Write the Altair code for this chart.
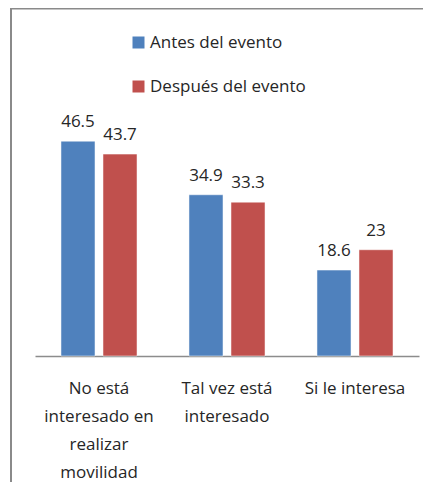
import json
import altair as alt
import pandas as pd

categories = ["No está interesado en realizar movilidad", "Tal vez está interesado", "Si le interesa"]
category_lines = [["No está", "interesado en", "realizar", "movilidad"], ["Tal vez está", "interesado"], ["Si le interesa"]]
series = ["Antes del evento", "Después del evento"]
antes = [46.5, 34.9, 18.6]
despues = [43.7, 33.3, 23]
colors = ["#4F81BD", "#C0504D"]

rows = []
for c, a, d in zip(categories, antes, despues):
    rows.append({"cat": c, "series": series[0], "value": a, "label": f"{a:g}"})
    rows.append({"cat": c, "series": series[1], "value": d, "label": f"{d:g}"})
df = pd.DataFrame(rows)

FONT = "Open Sans"
TXT = "#262626"

label_expr = " : ".join(
    f"datum.value == {json.dumps(c, ensure_ascii=False)} ? {json.dumps(l, ensure_ascii=False)}"
    for c, l in zip(categories, category_lines)
) + " : datum.value"

x_enc = alt.X(
    "cat:N", sort=categories, title=None,
    scale=alt.Scale(paddingInner=0.406, paddingOuter=0.203),
    axis=alt.Axis(labelExpr=label_expr, labelAngle=0, ticks=False, domainColor="#8c8c8c",
                  domainWidth=1.5, labelFont=FONT, labelFontSize=17, labelColor=TXT,
                  labelLineHeight=28, labelPadding=24, labelLimit=0),
)
xo_enc = alt.XOffset("series:N", sort=series, scale=alt.Scale(paddingInner=0.19, paddingOuter=0))
y_enc = alt.Y("value:Q", scale=alt.Scale(domain=[0, 50]), axis=None)

frame_df = pd.DataFrame({"f": [0]})
frame_left = alt.Chart(frame_df).mark_rule(stroke="#8a8a8a", strokeWidth=2).encode(
    x=alt.value(-24), y=alt.value(-116.5), y2=alt.value(360))
frame_top = alt.Chart(frame_df).mark_rule(stroke="#8a8a8a", strokeWidth=2).encode(
    x=alt.value(-25), x2=alt.value(388), y=alt.value(-116.5), y2=alt.value(-116.5))

bars = alt.Chart(df).mark_bar(stroke="white", strokeWidth=0.5).encode(
    x=x_enc, xOffset=xo_enc, y=y_enc,
    color=alt.Color("series:N", sort=series, scale=alt.Scale(domain=series, range=colors),
                    legend=alt.Legend(orient="none", legendX=95, legendY=-91, title=None,
                                      symbolType="square", symbolSize=144, symbolStrokeWidth=0,
                                      labelFont=FONT, labelFontSize=17, labelColor=TXT,
                                      rowPadding=26, labelOffset=3)),
)

texts = alt.Chart(df).mark_text(baseline="alphabetic", dy=-14, font=FONT, fontSize=17, color=TXT).encode(
    x=alt.X("cat:N", sort=categories), xOffset=xo_enc, y=y_enc, text="label:N"
)

chart = alt.layer(frame_left, frame_top, bars, texts).properties(
    width=384, height=231,
    autosize=alt.AutoSizeParams(type="none"),
    padding={"left": 27, "top": 117, "right": 5, "bottom": 126},
).configure_view(stroke=None)

chart.save("out.html", embed_options={"renderer": "svg", "actions": False})
